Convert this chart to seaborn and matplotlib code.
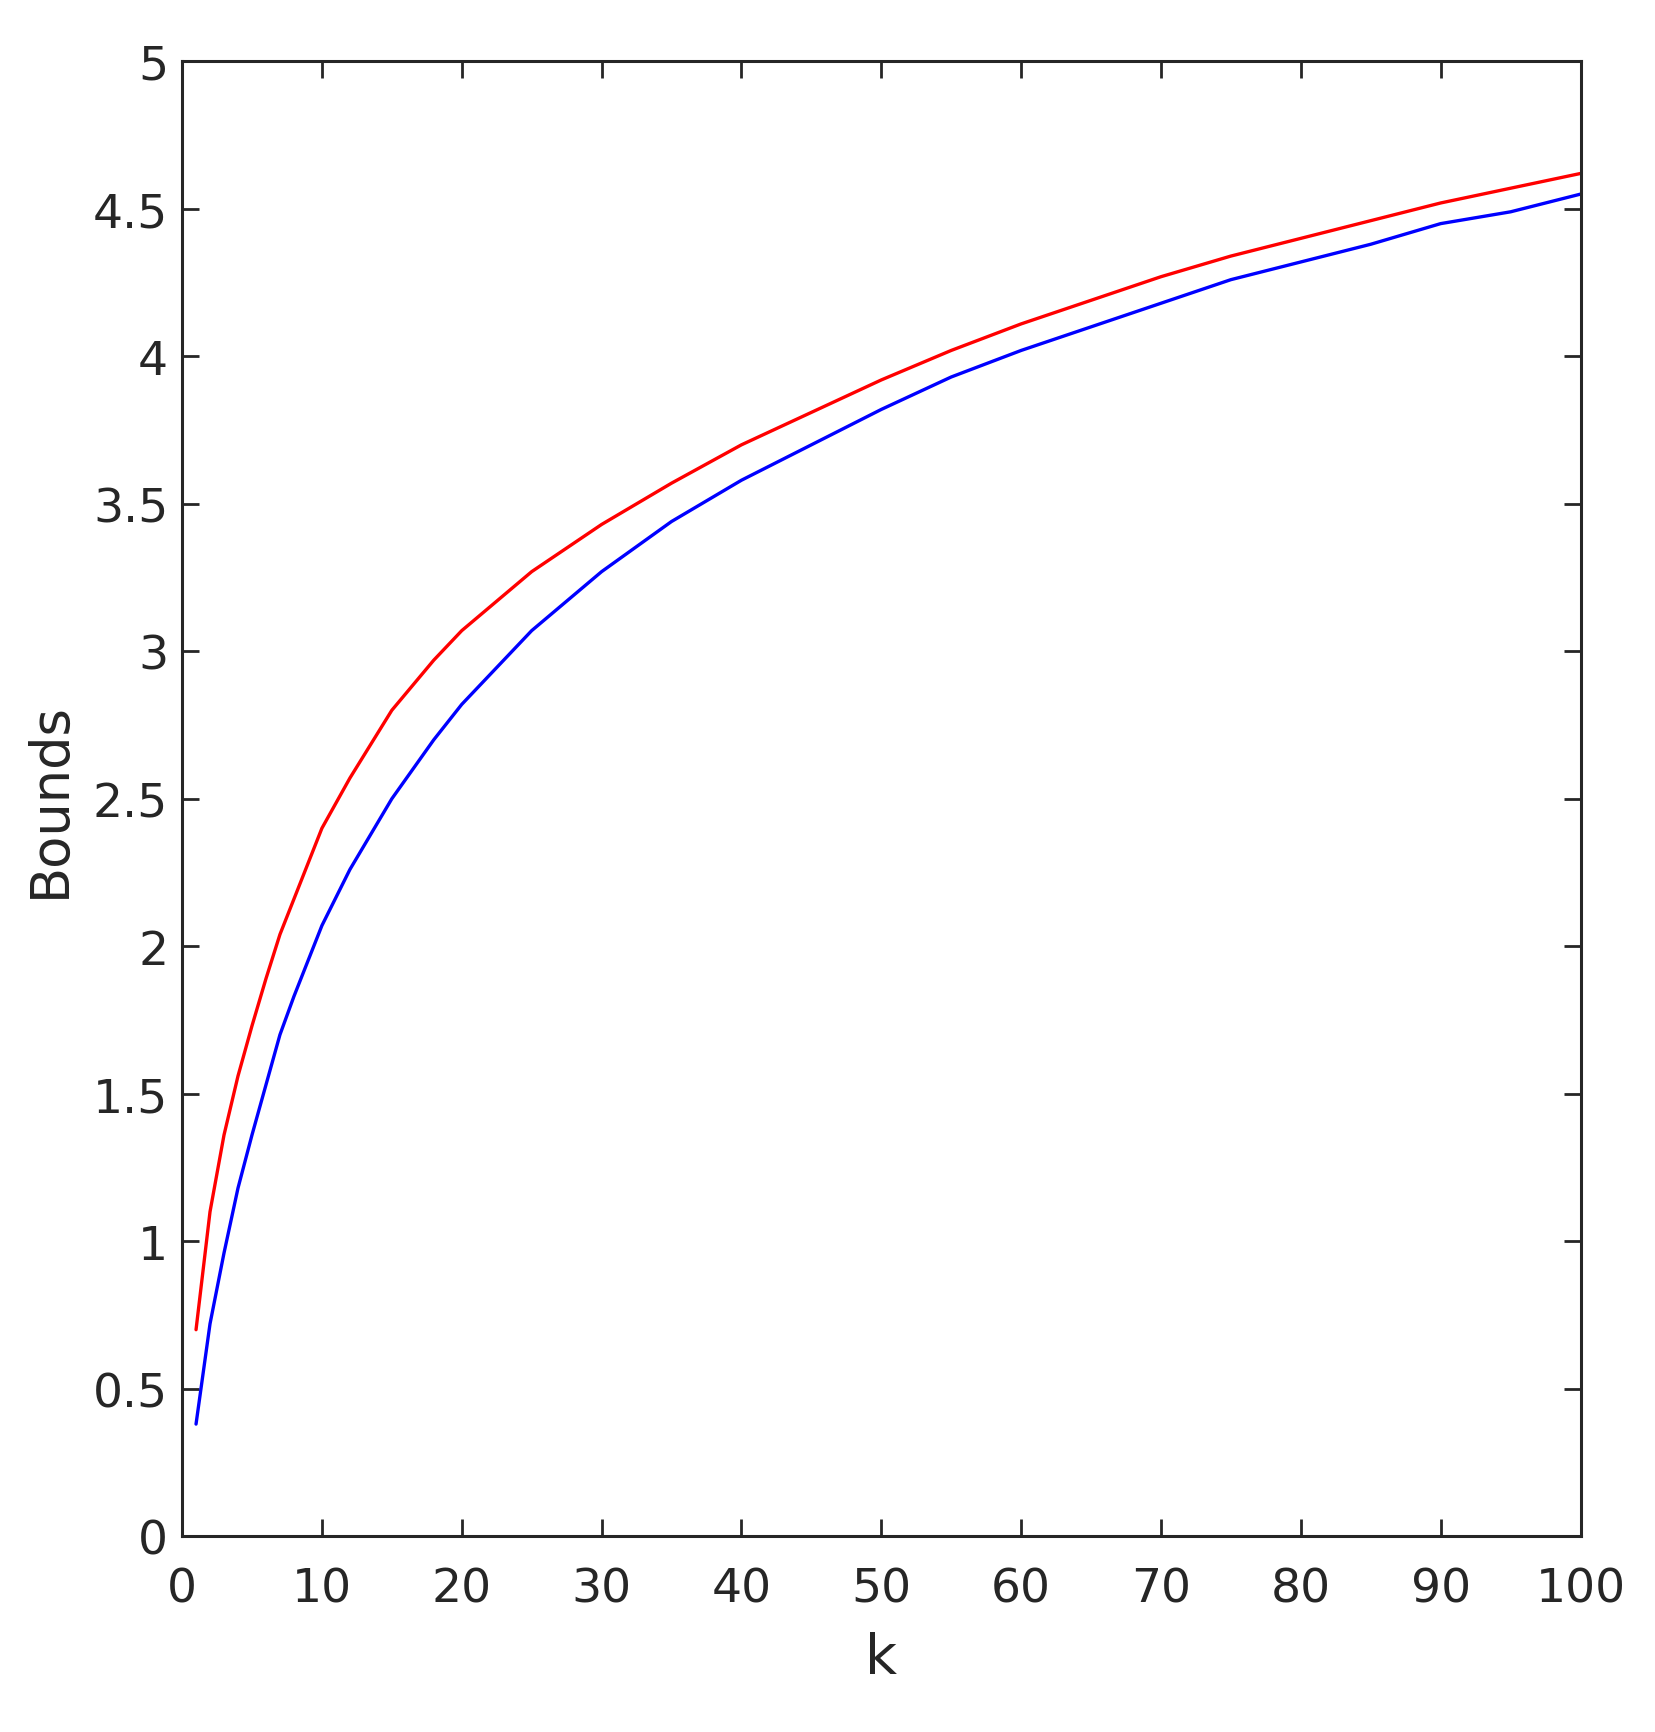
import numpy as np
import pandas as pd
import seaborn as sns
import matplotlib.pyplot as plt

# values
k = [1, 2, 3, 4, 5, 6, 7, 8, 10, 12, 15, 18, 20, 25, 30, 35, 40, 45, 50, 55, 60, 65, 70, 75, 80, 85, 90, 95, 100]
upper = [0.70, 1.10, 1.36, 1.56, 1.73, 1.89, 2.04, 2.16, 2.40, 2.57, 2.80, 2.97, 3.07, 3.27, 3.43, 3.57, 3.70, 3.81,
         3.92, 4.02, 4.11, 4.19, 4.27, 4.34, 4.40, 4.46, 4.52, 4.57, 4.62]
lower = [0.38, 0.72, 0.96, 1.18, 1.36, 1.53, 1.70, 1.83, 2.07, 2.26, 2.50, 2.70, 2.82, 3.07, 3.27, 3.44, 3.58, 3.70,
         3.82, 3.93, 4.02, 4.10, 4.18, 4.26, 4.32, 4.38, 4.45, 4.49, 4.55]

sns.set_theme(style="white")
plt.rcParams['font.family'] = ['Liberation Sans Narrow', 'DejaVu Sans']

df = pd.DataFrame({"k": k, "upper": upper, "lower": lower})

fig = plt.figure(figsize=(16.55, 17.33), dpi=100)
ax = fig.add_axes([0.11, 0.113, 0.845, 0.851])
sns.lineplot(data=df, x="k", y="upper", color="red", linewidth=2.4, ax=ax)
sns.lineplot(data=df, x="k", y="lower", color="blue", linewidth=2.4, ax=ax)

ax.set_xlim(0, 100)
ax.set_ylim(0, 5)
ax.set_xticks(range(0, 101, 10))
ax.set_yticks(np.arange(0, 5.01, 0.5))
ax.set_yticklabels(["0", "0.5", "1", "1.5", "2", "2.5", "3", "3.5", "4", "4.5", "5"])
ax.tick_params(direction="in", length=12, width=2, top=True, right=True,
               bottom=True, left=True, labelsize=34, colors="#262626")
ax.tick_params(axis="x", pad=22)
ax.tick_params(axis="y", pad=10)
for s in ax.spines.values():
    s.set_linewidth(2.2)
    s.set_color("#262626")
ax.set_xlabel("k", fontsize=40, color="#262626", labelpad=14)
ax.set_ylabel("Bounds", fontsize=38, color="#262626", labelpad=12)

fig.savefig("out.png", dpi=100)
